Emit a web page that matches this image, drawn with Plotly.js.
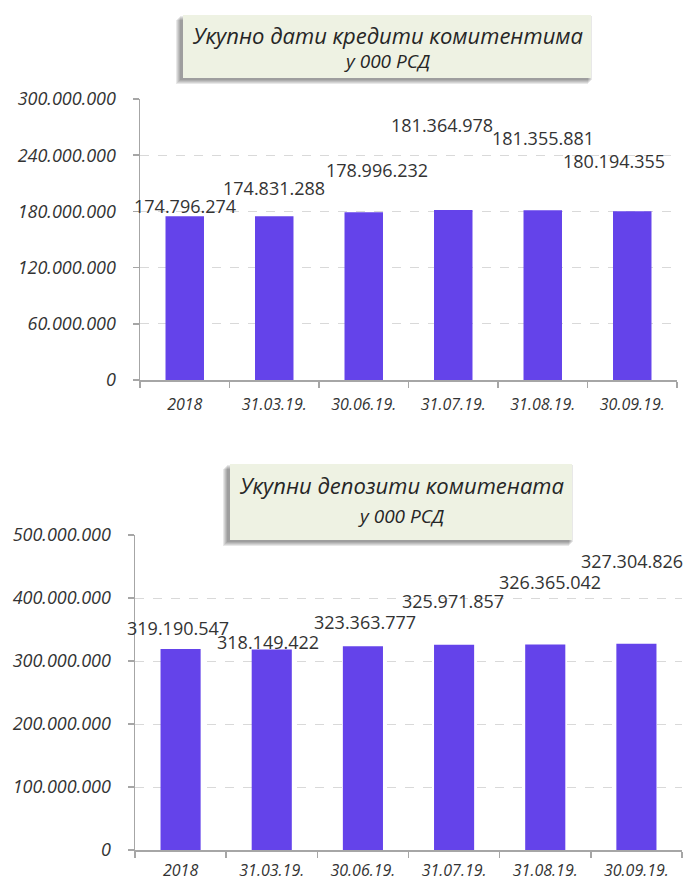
<!DOCTYPE html>
<html><head><meta charset="utf-8">
<script src="https://cdn.plot.ly/plotly-3.0.1.min.js"></script>
<style>
html,body{margin:0;padding:0;background:#fff;}
#chart{width:690px;height:882px;}
.plot .points path{filter:drop-shadow(-3px 2px 3px rgba(0,0,0,0.35));}
</style></head>
<body><div id="chart"></div>
<script>
// ---- data ----
const categories = ["2018", "31.03.19.", "30.06.19.", "31.07.19.", "31.08.19.", "30.09.19."];
const loans = [174796274, 174831288, 178996232, 181364978, 181355881, 180194355];
const deposits = [319190547, 318149422, 323363777, 325971857, 326365042, 327304826];
const loansLabels = ["174.796.274", "174.831.288", "178.996.232", "181.364.978", "181.355.881", "180.194.355"];
const depositsLabels = ["319.190.547", "318.149.422", "323.363.777", "325.971.857", "326.365.042", "327.304.826"];
const title1 = "Укупно дати кредити комитентима";
const title2 = "Укупни депозити комитената";
const unitText = "у 000 РСД";

// ---- label offsets (pixels) ----
const loansShiftX = [0, 0, 13, -11, 0, -18];
const loansShiftY = [10, 28, 42, 85, 72, 50];
const depShiftX = [-3, -4, 2, -1, 5, -4];
const depShiftY = [21, 8, 24, 44, 62, 83];

const W = 690, H = 882;
const barColor = "#6443EA";
const font = "'Open Sans', sans-serif";
const txt = "#333333";

const traces = [
  {type:"bar", x:categories, y:loans, xaxis:"x", yaxis:"y", marker:{color:barColor}, width:0.43, hoverinfo:"none"},
  {type:"bar", x:categories, y:deposits, xaxis:"x2", yaxis:"y2", marker:{color:barColor}, width:0.44, hoverinfo:"none"}
];

function px(x){return x/W;}
function py(y){return 1-y/H;}

const axisX = (dom, anchor, standoff) => ({
  domain:dom, anchor:anchor, type:"category", showgrid:false, range:[-0.5, categories.length-0.5],
  categoryorder:"array", categoryarray:categories,
  showline:true, linecolor:"#a6a6a6", linewidth:1.5, tickangle:0,
  ticks:"outside", tickson:"boundaries", ticklen:6, tickcolor:"#a6a6a6", tickwidth:1.5,
  tickfont:{family:font, size:16, color:txt, style:"italic"}, ticklabelstandoff:standoff
});
const axisY = (dom, anchor, range, dtick) => ({
  domain:dom, anchor:anchor, range:range, dtick:dtick, tick0:0, tickformat:",d",
  showgrid:true, gridcolor:"#d9d9d9", griddash:"dash", gridwidth:1,
  showline:true, linecolor:"#a6a6a6", linewidth:1.5, zeroline:false,
  ticks:"outside", ticklen:6, tickcolor:"#a6a6a6", tickwidth:1.5,
  tickfont:{family:font, size:18, color:txt, style:"italic"}, ticklabelstandoff:13
});

const annotations = [];
categories.forEach((c,i)=>{
  annotations.push({xref:"x", yref:"y", x:i, y:loans[i], text:loansLabels[i], showarrow:false,
    xanchor:"center", yanchor:"middle", xshift:loansShiftX[i], yshift:loansShiftY[i],
    font:{family:font, size:18, color:txt}});
  annotations.push({xref:"x2", yref:"y2", x:i, y:deposits[i], text:depositsLabels[i], showarrow:false,
    xanchor:"center", yanchor:"middle", xshift:depShiftX[i], yshift:depShiftY[i],
    font:{family:font, size:18, color:txt}});
});

// title boxes
const shapes = [];
function box(x0,y0,x1,y1){
  for(let k=5;k>=1;k--){
    shapes.push({type:"rect", xref:"paper", yref:"paper", layer:"above",
      x0:px(x0-k-2), x1:px(x1-k+2), y0:py(y1+k+1), y1:py(y0+k),
      fillcolor:"rgba(0,0,0,0.09)", line:{width:0}});
  }
  shapes.push({type:"rect", xref:"paper", yref:"paper", layer:"above",
    x0:px(x0), x1:px(x1), y0:py(y1), y1:py(y0), fillcolor:"#EEF2E3", line:{width:0}});
}
box(183,15,591,78);
box(230,464,572,540);
annotations.push({xref:"paper", yref:"paper", x:px(387), y:py(35), text:title1, showarrow:false,
  xanchor:"center", yanchor:"middle", font:{family:font, size:22, color:"#262626", style:"italic"}});
annotations.push({xref:"paper", yref:"paper", x:px(387), y:py(61), text:unitText, showarrow:false,
  xanchor:"center", yanchor:"middle", font:{family:font, size:19, color:"#262626", style:"italic"}});
annotations.push({xref:"paper", yref:"paper", x:px(401), y:py(485), text:title2, showarrow:false,
  xanchor:"center", yanchor:"middle", font:{family:font, size:22, color:"#262626", style:"italic"}});
annotations.push({xref:"paper", yref:"paper", x:px(401), y:py(516), text:unitText, showarrow:false,
  xanchor:"center", yanchor:"middle", font:{family:font, size:19, color:"#262626", style:"italic"}});

const layout = {
  width:W, height:H, margin:{l:0,r:0,t:0,b:0}, showlegend:false,
  paper_bgcolor:"#fff", plot_bgcolor:"rgba(0,0,0,0)", separators:",.",
  xaxis: axisX([px(140), px(677)], "y", 9),
  yaxis: axisY([py(380), py(99)], "x", [0,300000000], 60000000),
  xaxis2: axisX([px(135), px(682)], "y2", 5),
  yaxis2: axisY([py(850), py(535)], "x2", [0,500000000], 100000000),
  annotations:annotations, shapes:shapes
};
Plotly.newPlot("chart", traces, layout, {staticPlot:true});
</script></body></html>
